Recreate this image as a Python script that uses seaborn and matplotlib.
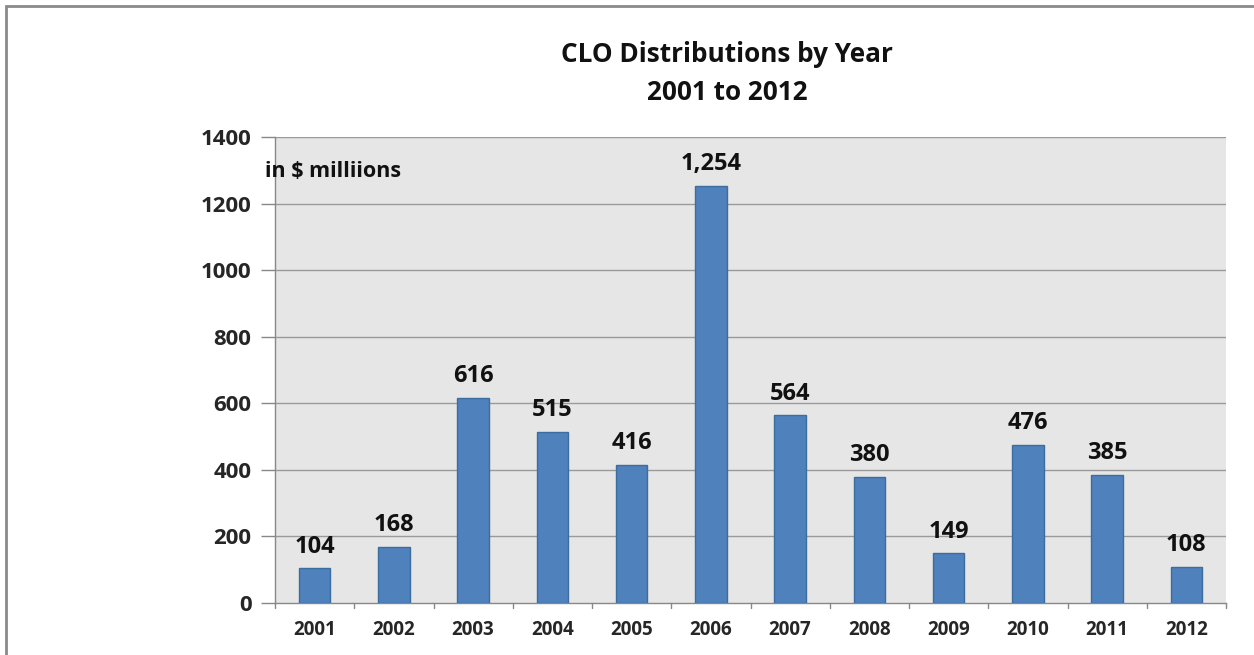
import matplotlib
matplotlib.use("Agg")
import matplotlib.pyplot as plt
import seaborn as sns
import pandas as pd
from matplotlib.patches import Rectangle

years = ["2001", "2002", "2003", "2004", "2005", "2006",
         "2007", "2008", "2009", "2010", "2011", "2012"]
values = [104, 168, 616, 515, 416, 1254, 564, 380, 149, 476, 385, 108]
labels = ["104", "168", "616", "515", "416", "1,254",
          "564", "380", "149", "476", "385", "108"]
yticks = [0, 200, 400, 600, 800, 1000, 1200, 1400]

sns.set_theme(style="white")
plt.rcParams['font.family'] = ['Open Sans', 'DejaVu Sans']
plt.rcParams['font.weight'] = 'bold'

df = pd.DataFrame({"year": years, "value": values})

fig = plt.figure(figsize=(12.54, 6.55), dpi=100)
ax = fig.add_axes([275/1254, 1-603/655, (1226-275)/1254, (603-137)/655])
ax.set_facecolor("#E6E6E6")

sns.barplot(data=df, x="year", y="value", ax=ax, color="#4F81BD",
            saturation=1, width=0.4, edgecolor="#3D6C9E", linewidth=1, zorder=3)

ax.set_ylim(0, 1400)
ax.set_xlim(-0.5, 11.5)
ax.set_yticks(yticks)
ax.set_yticklabels([str(t) for t in yticks], fontsize=16, fontweight='bold')
ax.set_xticks(range(len(years)))
ax.set_xticklabels(years, fontsize=13.5, fontweight='bold')
ax.tick_params(axis='x', length=0, pad=12)
ax.tick_params(axis='y', length=10, color="#888888", width=1, pad=7, left=True)
ax.set_xlabel("")
ax.set_ylabel("")

for t in yticks[1:]:
    ax.axhline(t, color="#9A9A9A", lw=1, zorder=1)

# category boundary ticks below axis
for b in [i - 0.5 for i in range(len(years) + 1)]:
    ax.plot([b, b], [0, -15], color="#888888", lw=1, clip_on=False, zorder=4)

for s in ["top", "right"]:
    ax.spines[s].set_visible(False)
ax.spines["left"].set_color("#888888")
ax.spines["bottom"].set_color("#888888")
ax.spines["left"].set_linewidth(1)
ax.spines["bottom"].set_linewidth(1)

for i, (v, lab) in enumerate(zip(values, labels)):
    ax.annotate(lab, (i, v), xytext=(0, 7), textcoords="offset points",
                ha="center", va="bottom", fontsize=17, fontweight="bold",
                color="#111111")

fig.text(727/1254, 1-55/655, "CLO Distributions by Year", ha="center", va="center",
         fontsize=18.8, fontweight="bold", color="#111111")
fig.text(727/1254, 1-93/655, "2001 to 2012", ha="center", va="center",
         fontsize=18.8, fontweight="bold", color="#111111")
fig.text(265/1254, 1-171/655, "in $ milliions", ha="left", va="center",
         fontsize=15.5, fontweight="bold", color="#111111")

fig.patches.append(Rectangle((6/1254, -0.1), 1.2, 1 - 6/655 + 0.1,
                             transform=fig.transFigure, fill=False,
                             edgecolor="#8A8A8A", lw=2, zorder=0))

fig.savefig("out.png", dpi=100)
